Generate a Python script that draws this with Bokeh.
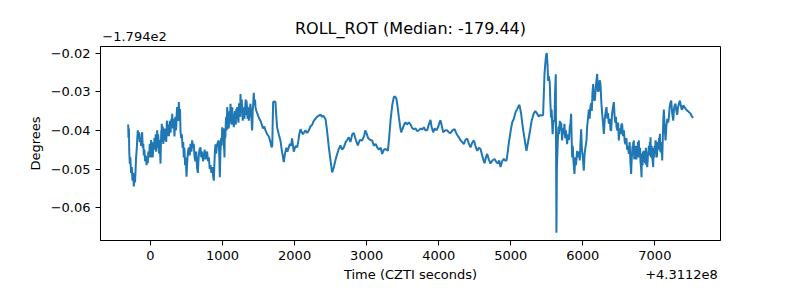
from bokeh.plotting import figure
from bokeh.models import Range1d, FixedTicker, CustomJSTickFormatter, LinearAxis
from bokeh.embed import file_html
from bokeh.resources import INLINE

# time offset from 4.3112e8 (s); roll offset from -179.4 (deg)
pairs = [
(-310,-0.0385),(-305,-0.0420),(-300,-0.0395),(-295,-0.0455),(-287,-0.0486),(-280,-0.0470),(-270,-0.0510),(-260,-0.0495),(-250,-0.0530),(-240,-0.0510),(-232,-0.0545),(-222,-0.0515),(-215,-0.0535),(-208,-0.0505),(-200,-0.0470),(-190,-0.0445),(-183,-0.0420),(-176,-0.0400),(-168,-0.0415),(-160,-0.0405),(-150,-0.0430),(-139,-0.0420),(-130,-0.0440),(-123,-0.0410),(-116,-0.0405),(-108,-0.0445),(-100,-0.0435),(-93,-0.0465),(-85,-0.0450),(-75,-0.0480),(-65,-0.0465),(-55,-0.0490),(-46,-0.0475),(-38,-0.0485),(-30,-0.0455),(-20,-0.0470),(-10,-0.0435),(0,-0.0450),(8,-0.0425),(16,-0.0460),(25,-0.0435),(35,-0.0455),(46,-0.0440),(55,-0.0420),(64,-0.0450),(73,-0.0410),(83,-0.0440),(93,-0.0400),(102,-0.0445),(110,-0.0420),(120,-0.0460),(130,-0.0440),(139,-0.0486),(145,-0.0430),(150,-0.0400),(156,-0.0383),(162,-0.0410),(170,-0.0390),(178,-0.0435),(188,-0.0400),(198,-0.0426),(208,-0.0395),(218,-0.0430),(226,-0.0380),(231,-0.0375),(240,-0.0415),(250,-0.0385),(260,-0.0405),(270,-0.0375),(278,-0.0406),(290,-0.0370),(301,-0.0357),(310,-0.0395),(320,-0.0370),(333,-0.0416),(345,-0.0365),(358,-0.0390),(370,-0.0340),(380,-0.0370),(393,-0.0327),(403,-0.0360),(410,-0.0345),(416,-0.0400),(425,-0.0420),(435,-0.0410),(445,-0.0445),(454,-0.0430),(462,-0.0470),(470,-0.0445),(480,-0.0490),(490,-0.0470),(500,-0.0520),(510,-0.0480),(520,-0.0455),(532,-0.0444),(545,-0.0465),(555,-0.0435),(568,-0.0455),(578,-0.0426),(590,-0.0445),(600,-0.0435),(612,-0.0470),(624,-0.0480),(635,-0.0455),(645,-0.0495),(657,-0.0510),(668,-0.0470),(680,-0.0450),(694,-0.0444),(705,-0.0470),(715,-0.0455),(728,-0.0480),(740,-0.0470),(752,-0.0450),(765,-0.0475),(776,-0.0460),(786,-0.0455),(798,-0.0480),(810,-0.0470),(822,-0.0500),(833,-0.0490),(845,-0.0510),(858,-0.0495),(870,-0.0520),(879,-0.0530),(886,-0.0490),(894,-0.0455),(902,-0.0436),(912,-0.0460),(922,-0.0440),(935,-0.0430),(948,-0.0426),(955,-0.0470),(962,-0.0521),(970,-0.0460),(980,-0.0420),(988,-0.0440),(995,-0.0392),(1005,-0.0430),(1015,-0.0410),(1027,-0.0470),(1036,-0.0420),(1045,-0.0380),(1055,-0.0400),(1064,-0.0340),(1075,-0.0380),(1087,-0.0392),(1098,-0.0350),(1110,-0.0331),(1120,-0.0375),(1130,-0.0350),(1140,-0.0385),(1156,-0.0392),(1166,-0.0360),(1178,-0.0380),(1190,-0.0345),(1203,-0.0340),(1215,-0.0370),(1228,-0.0330),(1240,-0.0345),(1249,-0.0306),(1258,-0.0340),(1266,-0.0320),(1275,-0.0355),(1286,-0.0366),(1298,-0.0340),(1310,-0.0350),(1322,-0.0320),(1332,-0.0323),(1342,-0.0355),(1352,-0.0340),(1364,-0.0375),(1375,-0.0345),(1387,-0.0331),(1397,-0.0360),(1410,-0.0400),(1418,-0.0350),(1426,-0.0330),(1434,-0.0303),(1445,-0.0325),(1457,-0.0340),(1470,-0.0350),(1490,-0.0360),(1510,-0.0370),(1526,-0.0375),(1545,-0.0385),(1560,-0.0395),(1580,-0.0390),(1596,-0.0400),(1620,-0.0410),(1642,-0.0416),(1665,-0.0430),(1680,-0.0444),(1690,-0.0440),(1696,-0.0380),(1702,-0.0327),(1718,-0.0325),(1734,-0.0327),(1745,-0.0360),(1757,-0.0392),(1780,-0.0410),(1803,-0.0426),(1825,-0.0455),(1850,-0.0482),(1862,-0.0465),(1873,-0.0455),(1885,-0.0445),(1900,-0.0455),(1919,-0.0444),(1935,-0.0435),(1950,-0.0440),(1965,-0.0421),(1978,-0.0440),(1988,-0.0455),(2005,-0.0445),(2020,-0.0440),(2035,-0.0444),(2050,-0.0430),(2065,-0.0410),(2082,-0.0397),(2100,-0.0405),(2115,-0.0410),(2128,-0.0407),(2150,-0.0400),(2174,-0.0407),(2197,-0.0400),(2220,-0.0390),(2245,-0.0385),(2267,-0.0375),(2290,-0.0370),(2310,-0.0365),(2336,-0.0362),(2359,-0.0359),(2380,-0.0365),(2400,-0.0362),(2429,-0.0371),(2450,-0.0400),(2475,-0.0444),(2500,-0.0480),(2521,-0.0509),(2545,-0.0495),(2570,-0.0475),(2591,-0.0461),(2610,-0.0450),(2636,-0.0439),(2660,-0.0450),(2683,-0.0444),(2710,-0.0430),(2730,-0.0425),(2752,-0.0418),(2775,-0.0430),(2800,-0.0410),(2822,-0.0407),(2850,-0.0425),(2877,-0.0439),(2905,-0.0425),(2937,-0.0426),(2965,-0.0415),(2980,-0.0400),(2998,-0.0407),(3020,-0.0420),(3050,-0.0425),(3076,-0.0426),(3100,-0.0440),(3125,-0.0435),(3146,-0.0444),(3170,-0.0450),(3195,-0.0445),(3215,-0.0461),(3240,-0.0450),(3262,-0.0448),(3294,-0.0453),(3312,-0.0420),(3331,-0.0375),(3355,-0.0335),(3377,-0.0314),(3395,-0.0312),(3414,-0.0319),(3430,-0.0340),(3447,-0.0366),(3465,-0.0390),(3479,-0.0405),(3500,-0.0395),(3520,-0.0385),(3539,-0.0379),(3560,-0.0385),(3585,-0.0379),(3610,-0.0385),(3635,-0.0395),(3655,-0.0397),(3680,-0.0395),(3700,-0.0402),(3724,-0.0400),(3750,-0.0395),(3770,-0.0398),(3794,-0.0392),(3815,-0.0400),(3840,-0.0400),(3862,-0.0385),(3886,-0.0373),(3900,-0.0390),(3923,-0.0405),(3945,-0.0395),(3970,-0.0400),(3995,-0.0390),(4010,-0.0380),(4024,-0.0374),(4045,-0.0390),(4062,-0.0405),(4090,-0.0400),(4118,-0.0400),(4140,-0.0405),(4164,-0.0407),(4190,-0.0400),(4220,-0.0397),(4250,-0.0410),(4280,-0.0418),(4300,-0.0425),(4325,-0.0430),(4349,-0.0436),(4370,-0.0425),(4395,-0.0421),(4420,-0.0435),(4441,-0.0444),(4465,-0.0432),(4488,-0.0426),(4510,-0.0440),(4534,-0.0453),(4558,-0.0445),(4580,-0.0448),(4610,-0.0470),(4636,-0.0485),(4655,-0.0470),(4673,-0.0461),(4695,-0.0475),(4719,-0.0486),(4745,-0.0478),(4775,-0.0474),(4800,-0.0482),(4821,-0.0486),(4840,-0.0478),(4858,-0.0495),(4880,-0.0480),(4904,-0.0474),(4920,-0.0478),(4941,-0.0478),(4960,-0.0453),(4974,-0.0431),(5000,-0.0400),(5020,-0.0379),(5043,-0.0370),(5066,-0.0353),(5089,-0.0345),(5112,-0.0336),(5121,-0.0334),(5144,-0.0357),(5162,-0.0385),(5181,-0.0409),(5200,-0.0432),(5218,-0.0453),(5240,-0.0430),(5264,-0.0405),(5290,-0.0375),(5320,-0.0356),(5340,-0.0350),(5357,-0.0354),(5375,-0.0360),(5389,-0.0364),(5410,-0.0360),(5430,-0.0362),(5449,-0.0360),(5460,-0.0300),(5468,-0.0255),(5478,-0.0230),(5490,-0.0206),(5500,-0.0200),(5510,-0.0230),(5519,-0.0272),(5530,-0.0260),(5542,-0.0280),(5550,-0.0330),(5560,-0.0367),(5567,-0.0346),(5574,-0.0380),(5581,-0.0410),(5588,-0.0390),(5596,-0.0375),(5607,-0.0375),(5615,-0.0300),(5625,-0.0255),(5630,-0.0500),(5634,-0.0665),(5640,-0.0500),(5653,-0.0426),(5662,-0.0390),(5670,-0.0410),(5681,-0.0375),(5690,-0.0400),(5700,-0.0380),(5713,-0.0426),(5725,-0.0395),(5735,-0.0410),(5745,-0.0383),(5755,-0.0420),(5765,-0.0400),(5782,-0.0436),(5795,-0.0410),(5808,-0.0425),(5819,-0.0392),(5830,-0.0380),(5838,-0.0357),(5845,-0.0420),(5852,-0.0470),(5860,-0.0440),(5870,-0.0480),(5884,-0.0513),(5895,-0.0470),(5905,-0.0490),(5921,-0.0453),(5932,-0.0470),(5945,-0.0455),(5958,-0.0478),(5968,-0.0430),(5977,-0.0397),(5988,-0.0450),(6000,-0.0470),(6014,-0.0504),(6025,-0.0460),(6040,-0.0440),(6051,-0.0426),(6060,-0.0390),(6072,-0.0370),(6083,-0.0346),(6095,-0.0370),(6105,-0.0340),(6116,-0.0330),(6125,-0.0350),(6135,-0.0300),(6144,-0.0280),(6155,-0.0320),(6167,-0.0323),(6180,-0.0290),(6190,-0.0270),(6199,-0.0254),(6210,-0.0300),(6222,-0.0297),(6235,-0.0270),(6245,-0.0280),(6258,-0.0330),(6269,-0.0357),(6280,-0.0380),(6292,-0.0409),(6305,-0.0370),(6318,-0.0350),(6329,-0.0340),(6340,-0.0370),(6350,-0.0355),(6361,-0.0383),(6375,-0.0370),(6385,-0.0400),(6394,-0.0400),(6405,-0.0360),(6418,-0.0340),(6431,-0.0327),(6440,-0.0360),(6450,-0.0380),(6460,-0.0365),(6468,-0.0392),(6480,-0.0400),(6490,-0.0380),(6500,-0.0426),(6512,-0.0395),(6525,-0.0410),(6535,-0.0385),(6546,-0.0383),(6558,-0.0415),(6570,-0.0400),(6582,-0.0430),(6593,-0.0436),(6605,-0.0420),(6615,-0.0450),(6628,-0.0440),(6639,-0.0461),(6650,-0.0430),(6660,-0.0480),(6671,-0.0513),(6680,-0.0470),(6690,-0.0440),(6700,-0.0430),(6708,-0.0426),(6718,-0.0460),(6730,-0.0440),(6745,-0.0475),(6755,-0.0461),(6765,-0.0430),(6778,-0.0426),(6790,-0.0460),(6800,-0.0480),(6815,-0.0521),(6825,-0.0480),(6835,-0.0455),(6848,-0.0453),(6860,-0.0480),(6870,-0.0460),(6882,-0.0490),(6894,-0.0495),(6905,-0.0460),(6918,-0.0440),(6930,-0.0430),(6940,-0.0418),(6950,-0.0450),(6962,-0.0470),(6977,-0.0495),(6988,-0.0460),(6998,-0.0440),(7009,-0.0426),(7020,-0.0450),(7033,-0.0453),(7045,-0.0430),(7058,-0.0420),(7070,-0.0409),(7080,-0.0440),(7092,-0.0460),(7102,-0.0478),(7110,-0.0420),(7118,-0.0370),(7125,-0.0346),(7135,-0.0390),(7148,-0.0426),(7160,-0.0390),(7172,-0.0370),(7185,-0.0380),(7195,-0.0366),(7205,-0.0340),(7215,-0.0330),(7227,-0.0323),(7240,-0.0355),(7255,-0.0375),(7265,-0.0345),(7275,-0.0335),(7287,-0.0331),(7298,-0.0350),(7310,-0.0360),(7322,-0.0340),(7335,-0.0330),(7347,-0.0323),(7360,-0.0335),(7370,-0.0345),(7380,-0.0346),(7395,-0.0335),(7412,-0.0340),(7430,-0.0345),(7449,-0.0349),(7470,-0.0352),(7495,-0.0357),(7510,-0.0362),(7528,-0.0368),
]
# additional high-frequency samples in the noisy stretches
extra_pairs = [
(4,-0.0470),(12,-0.0440),(20,-0.0445),(30,-0.0470),(40,-0.0430),(50,-0.0450),(60,-0.0430),(68,-0.0420),(78,-0.0455),(88,-0.0415),(97,-0.0430),(106,-0.0410),(115,-0.0450),(125,-0.0425),(134,-0.0460),(142,-0.0455),(148,-0.0415),(153,-0.0430),(159,-0.0395),(166,-0.0420),(174,-0.0400),(183,-0.0420),(193,-0.0395),(203,-0.0420),(213,-0.0400),(222,-0.0415),(235,-0.0395),(245,-0.0400),(255,-0.0415),(265,-0.0390),(274,-0.0395),(284,-0.0385),(295,-0.0395),(305,-0.0375),(315,-0.0380),(326,-0.0390),(339,-0.0380),(351,-0.0400),(364,-0.0355),(375,-0.0355),(386,-0.0375),(398,-0.0345),(407,-0.0370),
(1000,-0.0405),(1010,-0.0395),(1020,-0.0440),(1032,-0.0395),(1040,-0.0415),(1050,-0.0365),(1060,-0.0395),(1069,-0.0355),(1080,-0.0395),(1092,-0.0365),(1104,-0.0380),(1115,-0.0345),(1125,-0.0385),(1135,-0.0340),(1148,-0.0370),(1161,-0.0375),(1172,-0.0350),(1184,-0.0385),(1196,-0.0365),(1209,-0.0355),(1221,-0.0380),(1234,-0.0340),(1245,-0.0365),(1253,-0.0325),(1262,-0.0355),(1270,-0.0335),(1280,-0.0375),(1292,-0.0345),(1304,-0.0370),(1316,-0.0335),(1327,-0.0360),(1337,-0.0335),(1347,-0.0370),(1358,-0.0345),(1369,-0.0365),(1381,-0.0340),(1392,-0.0345),(1403,-0.0375),(1414,-0.0385),(1422,-0.0340),(1430,-0.0315),(1440,-0.0335),(1451,-0.0320),
(6655,-0.0455),(6665,-0.0495),(6675,-0.0490),(6685,-0.0455),(6695,-0.0460),(6704,-0.0445),(6713,-0.0475),(6724,-0.0445),(6737,-0.0470),(6750,-0.0440),(6760,-0.0470),(6772,-0.0445),(6784,-0.0470),(6795,-0.0445),(6808,-0.0495),(6820,-0.0460),(6830,-0.0490),(6842,-0.0465),(6854,-0.0470),(6865,-0.0485),(6876,-0.0445),(6888,-0.0475),(6900,-0.0480),(6912,-0.0450),(6924,-0.0465),(6935,-0.0445),(6945,-0.0470),(6956,-0.0440),(6970,-0.0480),(6982,-0.0445),(6993,-0.0470),(7004,-0.0450),(7015,-0.0430),(7027,-0.0470),(7039,-0.0440),(7052,-0.0450),(7064,-0.0430),(7075,-0.0455),(7086,-0.0430),(7097,-0.0440),
]
all_pairs = sorted(pairs + extra_pairs)
time_offset = [p[0] for p in all_pairs]
roll_offset = [p[1] for p in all_pairs]

x_ticks = [0, 1000, 2000, 3000, 4000, 5000, 6000, 7000]
y_ticks = [-0.06, -0.05, -0.04, -0.03, -0.02]
title_text = "ROLL_ROT (Median: -179.44)"
x_label_text = "Time (CZTI seconds)"
y_label_text = "Degrees"
y_offset_text = "\u22121.794e2"
x_offset_text = "+4.3112e8"

FONT = "DejaVu Sans"

p = figure(width=800, height=300, output_backend="svg", toolbar_location=None,
           x_range=Range1d(-694, 7911), y_range=Range1d(-0.0685, -0.0183),
           min_border_left=100, min_border_right=80, min_border_top=46, min_border_bottom=60,
           title=title_text)
p.title.align = "center"
p.title.text_font = FONT
p.title.text_font_size = "16px"
p.title.text_font_style = "normal"
p.title.text_color = "black"

p.line(time_offset, roll_offset, line_color="#1f77b4", line_width=2)

p.xgrid.visible = False
p.ygrid.visible = False
p.outline_line_color = "black"
p.outline_line_alpha = 1
p.outline_line_width = 1
p.background_fill_color = "white"
p.border_fill_color = "white"


def style_axis(ax):
    ax.axis_line_color = "black"
    ax.major_tick_line_color = "black"
    ax.major_tick_out = 5
    ax.major_tick_in = 0
    ax.minor_tick_line_color = None
    ax.major_label_text_font = FONT
    ax.major_label_text_font_size = "13px"
    ax.major_label_text_color = "black"
    ax.axis_label_text_font = FONT
    ax.axis_label_text_font_size = "13px"
    ax.axis_label_text_font_style = "normal"
    ax.axis_label_text_color = "black"


style_axis(p.xaxis[0])
style_axis(p.yaxis[0])
p.xaxis[0].ticker = FixedTicker(ticks=x_ticks)
p.yaxis[0].ticker = FixedTicker(ticks=y_ticks)
p.xaxis[0].formatter = CustomJSTickFormatter(code="return tick.toFixed(0);")
p.yaxis[0].formatter = CustomJSTickFormatter(code="return (tick < 0 ? '\\u2212' : '') + Math.abs(tick).toFixed(2);")
p.yaxis[0].axis_label = y_label_text

# offset text above the frame (matplotlib-style "-1.794e2"), as a bare axis row
top_axis = LinearAxis(ticker=FixedTicker(ticks=[-222]),
                      formatter=CustomJSTickFormatter(args=dict(t=y_offset_text), code="return t;"))
style_axis(top_axis)
top_axis.axis_line_color = None
top_axis.major_tick_line_color = None
top_axis.major_tick_out = 0
top_axis.major_label_standoff = 6
p.add_layout(top_axis, "above")
p.title.standoff = -18

# second row below the x tick labels: axis title + offset text "+4.3112e8"
bottom_axis = LinearAxis(ticker=FixedTicker(ticks=[3609, 7370]),
                         formatter=CustomJSTickFormatter(args=dict(a=x_label_text, b=x_offset_text),
                                                         code="return tick < 5000 ? a : b;"))
style_axis(bottom_axis)
bottom_axis.axis_line_color = None
bottom_axis.major_tick_line_color = None
bottom_axis.major_tick_out = 0
bottom_axis.major_label_standoff = 4
p.add_layout(bottom_axis, "below")

open("out.html", "w").write(file_html(p, INLINE))
